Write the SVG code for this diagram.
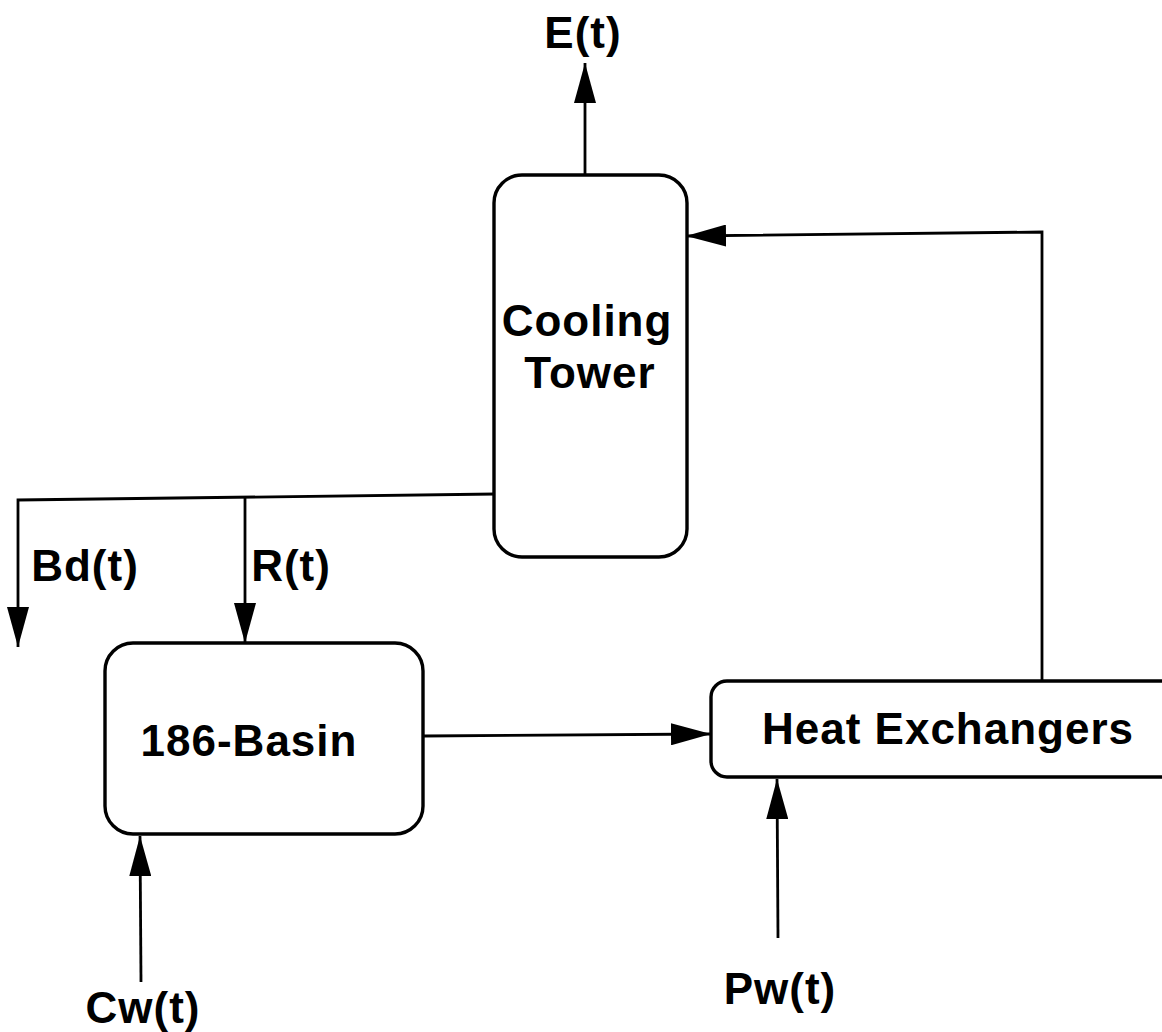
<svg xmlns="http://www.w3.org/2000/svg" width="1162" height="1032" viewBox="0 0 1162 1032">
<style>
.box{fill:#fff;stroke:#000;stroke-width:3.4}
.conn{fill:none;stroke:#000;stroke-width:2.8}
.t{font-family:"Liberation Sans",Arial,sans-serif;font-weight:bold;font-size:44px;letter-spacing:1px;fill:#000;text-anchor:middle}
</style>
<defs>
<marker id="ah" viewBox="0 0 40 22" refX="40" refY="11" markerWidth="40" markerHeight="22" markerUnits="userSpaceOnUse" orient="auto">
<path d="M0,0 L40,11 L0,22 Z" fill="#000"/>
</marker>
</defs>
<rect width="1162" height="1032" fill="#fff"/>
<g id="connectors">
<path class="conn" d="M585,175 L585,63" marker-end="url(#ah)"/>
<path class="conn" d="M1042,680 L1042,232 L686,236" marker-end="url(#ah)"/>
<path class="conn" d="M496,494 L18,500 L18,647" marker-end="url(#ah)"/>
<path class="conn" d="M245,498 L245,643" marker-end="url(#ah)"/>
<path class="conn" d="M424,736 L711,734" marker-end="url(#ah)"/>
<path class="conn" d="M141,982 L140,836" marker-end="url(#ah)"/>
<path class="conn" d="M778,938 L777,779" marker-end="url(#ah)"/>
</g>
<g id="cooling-tower">
<rect class="box" x="494" y="175" width="193" height="382" rx="28"/>
<text class="t" x="587" y="336">Cooling</text>
<text class="t" x="590" y="388">Tower</text>
</g>
<g id="basin">
<rect class="box" x="105" y="643" width="318" height="191" rx="28"/>
<text class="t" x="249" y="756">186-Basin</text>
</g>
<g id="heat-exchangers">
<rect class="box" x="711" y="681" width="480" height="96" rx="16"/>
<text class="t" x="948" y="744">Heat Exchangers</text>
</g>
<g id="labels">
<text class="t" x="583" y="48">E(t)</text>
<text class="t" x="85" y="581">Bd(t)</text>
<text class="t" x="291" y="581">R(t)</text>
<text class="t" x="143" y="1023">Cw(t)</text>
<text class="t" x="780" y="1004">Pw(t)</text>
</g>
</svg>
